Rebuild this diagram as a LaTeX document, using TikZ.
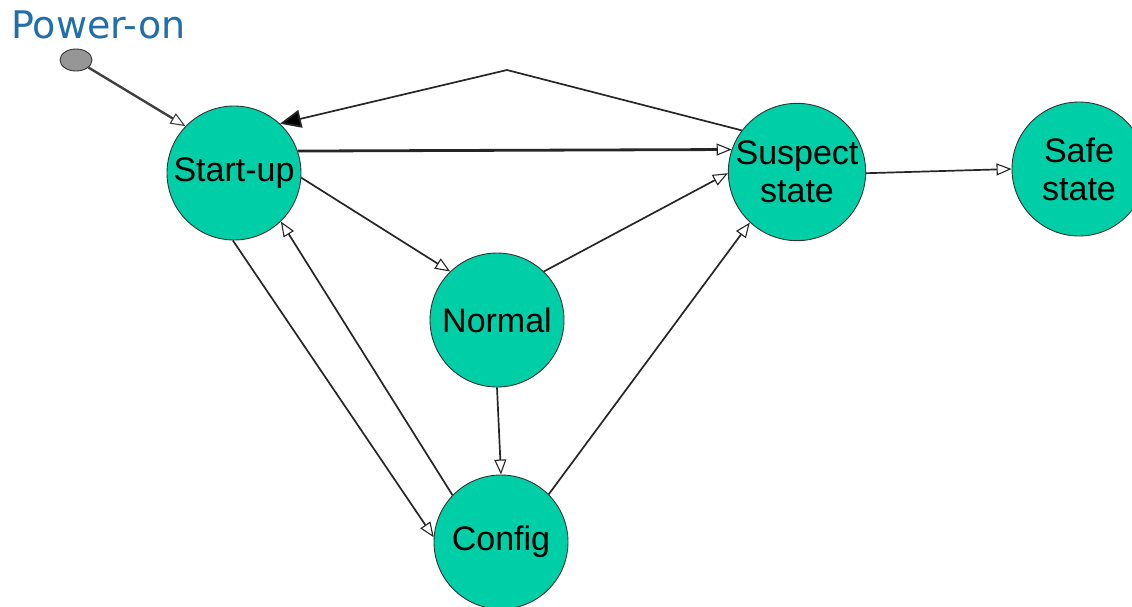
\documentclass[tikz,border=0pt]{standalone}
\usepackage{fontspec}
\setmainfont{Liberation Sans}
\newfontfamily\poweronfont{DejaVu Sans}
\usetikzlibrary{arrows.meta,shapes.geometric}
\definecolor{stategreen}{RGB}{0,206,166}
\definecolor{powerblue}{RGB}{32,110,170}
\definecolor{dotgray}{RGB}{150,150,150}
\tikzset{
  statenode/.style={circle, draw=black!80, line width=0.9pt, fill=stategreen, minimum size=134pt, inner sep=0pt, align=center, font=\fontsize{34}{38}\selectfont},
  trans/.style={line width=1.7pt, draw=black!85, -{Triangle[open, length=15pt, width=12pt, line width=1.1pt]}},
  boldtrans/.style={trans, line width=2.8pt, -{Triangle[open, length=15pt, width=12pt, line width=1.1pt]}},
  backtrans/.style={line width=1.7pt, draw=black!85, -{Triangle[length=21pt, width=18pt, fill=black]}},
}
\begin{document}
\begin{tikzpicture}[x=1pt, y=-1pt]
\useasboundingbox (0,0) rectangle (1132,606);
\node[anchor=west, text=powerblue, font=\poweronfont\fontsize{38}{42}\selectfont, inner sep=0pt] (label) at (11,25) {Power-on};
\node[ellipse, draw=black!80, fill=dotgray, minimum width=32pt, minimum height=22pt, inner sep=0pt, line width=0.9pt] (po) at (76,60) {};
\node[statenode] (su) at (234,173) {Start-up};
\node[statenode] (no) at (497,320) {Normal};
\node[statenode] (cf) at (501,542) {Config};
\node[statenode] (ss) at (797,172) {Suspect\\state};
\node[statenode] (sf) at (1079,169) {Safe\\state};
\coordinate (apex) at (507,70);

\draw[trans, line width=2.4pt, draw=black!75] (po) -- (su.136);
\draw[backtrans] (ss.143) -- (apex) -- (su.47);
\draw[boldtrans] (su.19) -- (ss.161);
\draw[trans] (su.-4) -- (no.134);
\draw[trans] (no.46) -- (ss.181);
\draw[trans] (cf.45) -- (ss.227);
\draw[trans] (su.-91) -- (cf.176);
\draw[trans] (cf.136) -- (su.-46);
\draw[trans] (no.-90) -- (cf.90);
\draw[trans] (ss.-1) -- (sf.180);
\end{tikzpicture}
\end{document}
